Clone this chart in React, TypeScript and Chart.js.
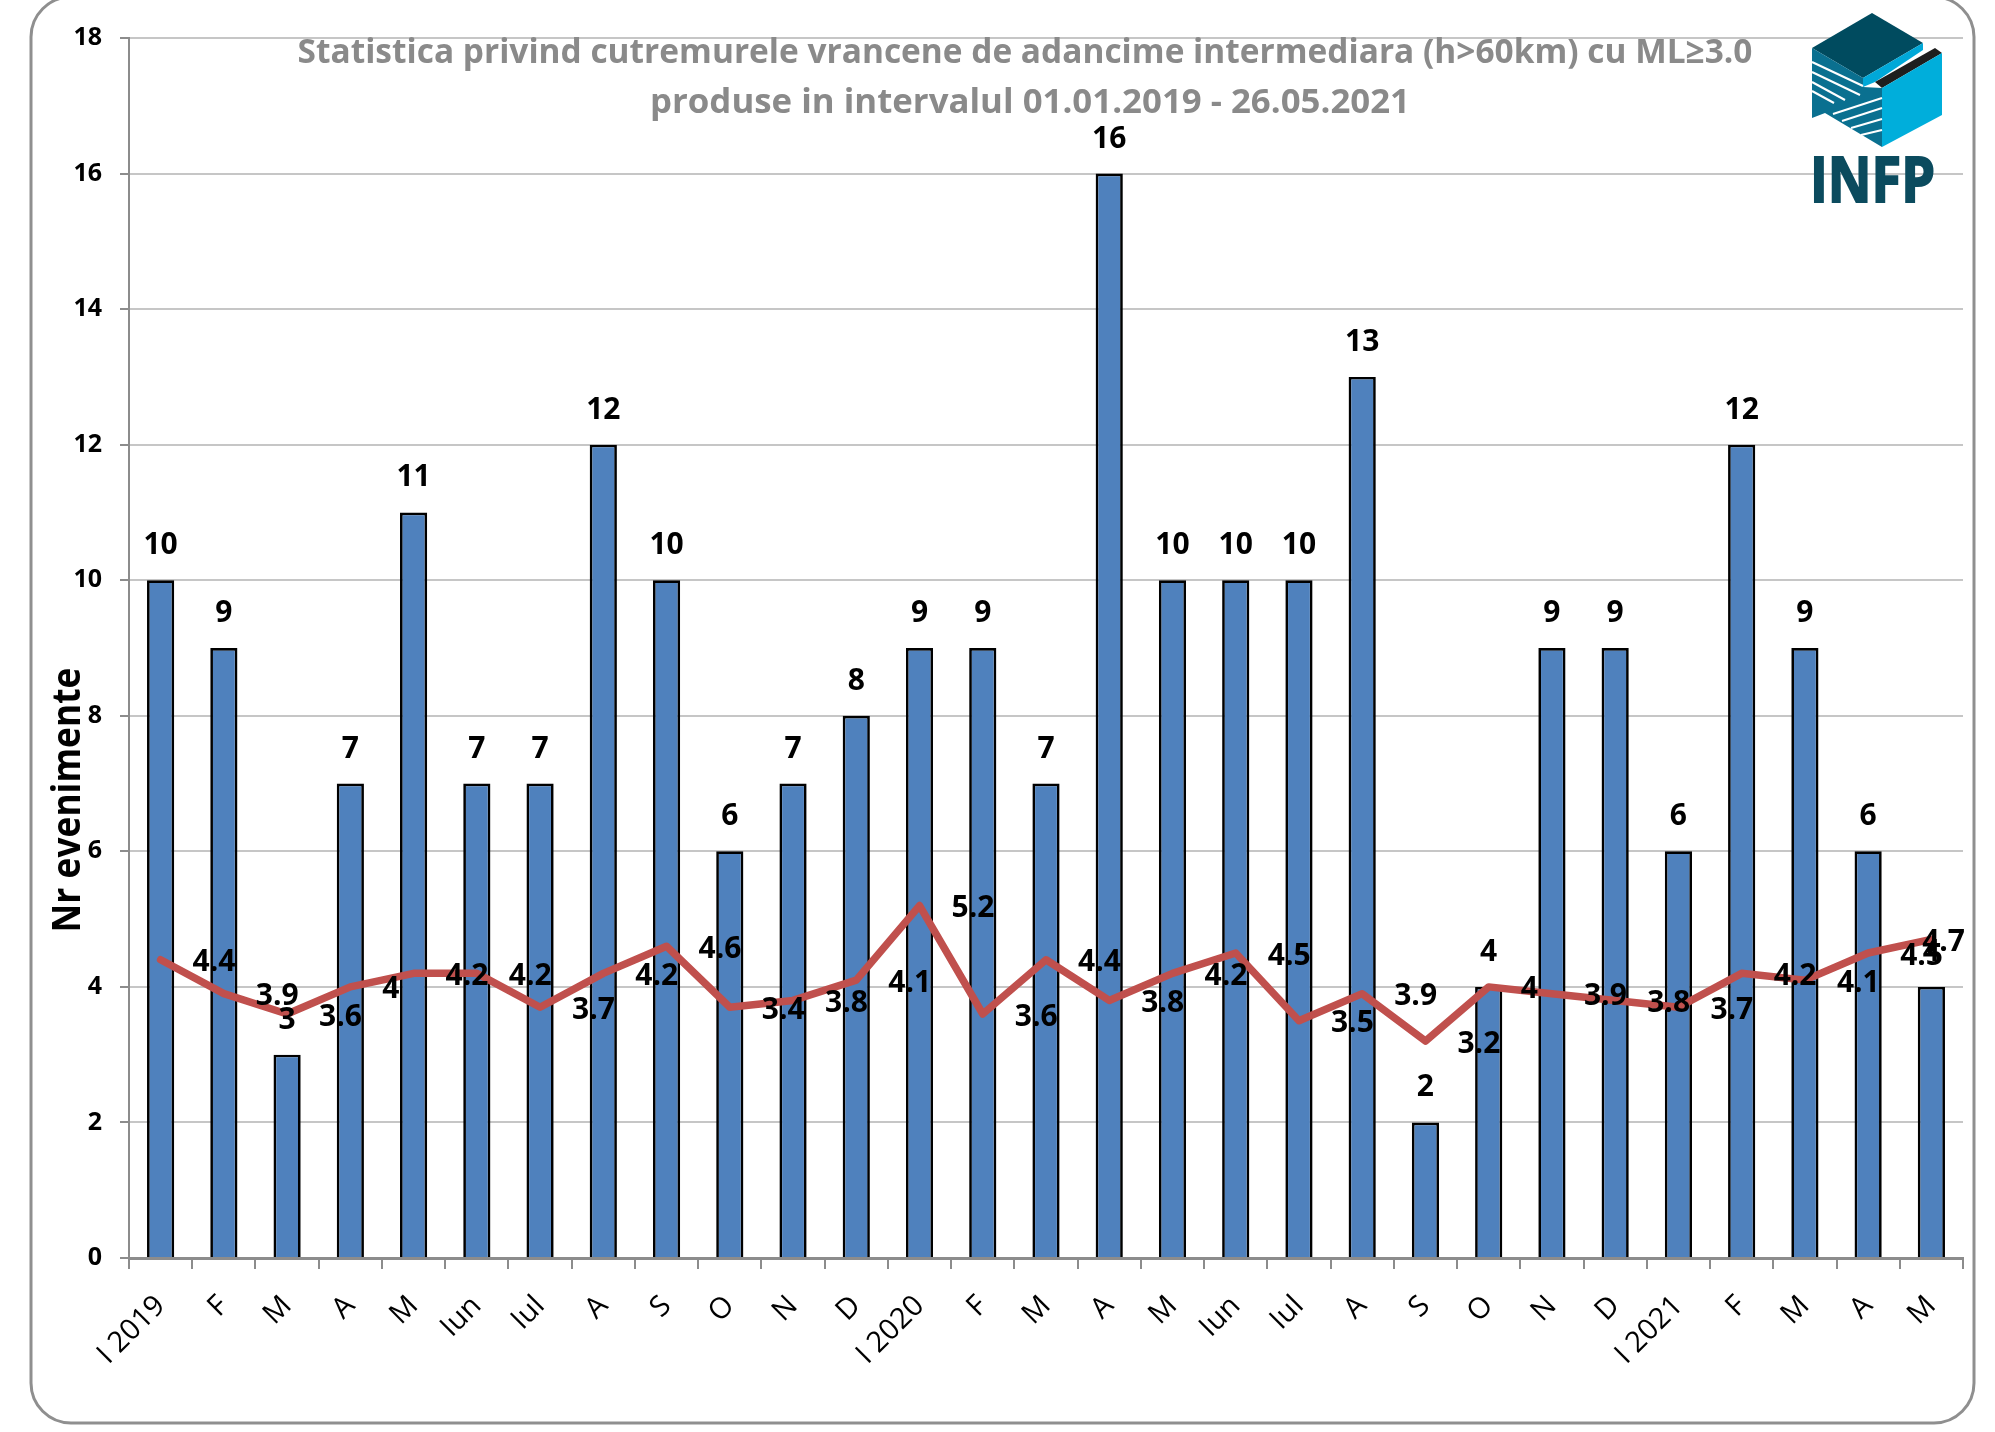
import { useEffect, useRef } from "react"
import { Chart, registerables } from "chart.js"

Chart.register(...registerables)

const W = 1995
const H = 1432

// Luni (2019 - 2021)
const months = [
  "I 2019", "F", "M", "A", "M", "Iun", "Iul", "A", "S", "O", "N", "D",
  "I 2020", "F", "M", "A", "M", "Iun", "Iul", "A", "S", "O", "N", "D",
  "I 2021", "F", "M", "A", "M",
]

// Nr evenimente pe luna
const eventCounts = [10, 9, 3, 7, 11, 7, 7, 12, 10, 6, 7, 8, 9, 9, 7, 16, 10, 10, 10, 13, 2, 4, 9, 9, 6, 12, 9, 6, 4]

// Magnitudinea (ML) medie pe luna
const avgMagnitude = [
  4.4, 3.9, 3.6, 4.0, 4.2, 4.2, 3.7, 4.2, 4.6, 3.7, 3.8, 4.1,
  5.2, 3.6, 4.4, 3.8, 4.2, 4.5, 3.5, 3.9, 3.2, 4.0, 3.9, 3.8,
  3.7, 4.2, 4.1, 4.5, 4.7,
]

// Etichetele afisate langa linie (asa cum apar in original)
const magnitudeLabels = [
  "4.4", "3.9", "3.6", "4", "4.2", "4.2", "3.7", "4.2", "4.6", "3.4", "3.8", "4.1",
  "5.2", "3.6", "4.4", "3.8", "4.2", "4.5", "3.5", "3.9", "3.2", "4", "3.9", "3.8",
  "3.7", "4.2", "4.1", "4.5", "4.7",
]

const yMin = 0
const yMax = 18
const yStep = 2

const titleLines = [
  "Statistica privind cutremurele vrancene de adancime intermediara (h>60km) cu ML≥3.0",
  "produse in intervalul 01.01.2019 - 26.05.2021",
]

const FONT = "'Open Sans', 'Noto Sans', sans-serif"

// draws the numbers above the bars and to the right of the line points
const valueLabels = {
  id: "valueLabels",
  afterDatasetsDraw(chart: any) {
    const { ctx, chartArea } = chart
    ctx.save()
    ctx.fillStyle = "#000"
    ctx.font = `bold 30px ${FONT}`

    ctx.textAlign = "center"
    ctx.textBaseline = "alphabetic"
    chart.getDatasetMeta(0).data.forEach((bar: any, i: number) => {
      ctx.fillText(String(eventCounts[i]), bar.x, bar.y - 26)
    })

    ctx.textAlign = "left"
    ctx.textBaseline = "middle"
    chart.getDatasetMeta(1).data.forEach((pt: any, i: number) => {
      const text = magnitudeLabels[i]
      const w = ctx.measureText(text).width
      const x = Math.min(pt.x + 32, chartArea.right + 2 - w)
      ctx.fillText(text, x, pt.y + 3)
    })
    ctx.restore()
  },
}

export default function App() {
  const canvasRef = useRef<HTMLCanvasElement>(null)
  const chartRef = useRef<Chart | null>(null)

  useEffect(() => {
    if (!canvasRef.current) return
    if (chartRef.current) chartRef.current.destroy()

    Chart.defaults.font.family = FONT

    chartRef.current = new Chart(canvasRef.current, {
      type: "bar",
      data: {
        labels: months,
        datasets: [
          {
            label: "Nr evenimente",
            data: eventCounts,
            backgroundColor: "#4f81bd",
            borderColor: "#000",
            borderWidth: 2.7,
            barPercentage: 0.43,
            categoryPercentage: 1,
            order: 1,
          },
          {
            type: "line",
            label: "ML mediu",
            data: avgMagnitude,
            borderColor: "#c0504d",
            borderWidth: 7.5,
            pointRadius: 0,
            tension: 0,
            borderJoinStyle: "round",
            borderCapStyle: "round",
            fill: false,
            order: 0,
          },
        ],
      },
      options: {
        responsive: false,
        animation: false,
        layout: { padding: { top: 38, right: 32, left: 0, bottom: 0 } },
        plugins: {
          legend: { display: false },
          tooltip: { enabled: false },
        },
        scales: {
          x: {
            ticks: {
              color: "#000",
              font: { size: 29 },
              maxRotation: 45,
              minRotation: 45,
              autoSkip: false,
              padding: 20,
            },
            grid: { drawOnChartArea: false, tickLength: 11, color: "#8c8c8c", lineWidth: 2 },
            border: { color: "#8c8c8c", width: 3 },
            afterFit: (s: any) => {
              s.height = 174
            },
          },
          y: {
            min: yMin,
            max: yMax,
            ticks: { stepSize: yStep, color: "#000", font: { size: 25, weight: "bold" }, padding: 18 },
            grid: { color: "#c6c6c6", lineWidth: 2, tickLength: 9, tickColor: "#8c8c8c" },
            border: { color: "#8c8c8c", width: 2 },
            afterFit: (s: any) => {
              s.width = 129
            },
          },
        },
      },
      plugins: [valueLabels],
    } as any)

    return () => {
      if (chartRef.current) {
        chartRef.current.destroy()
        chartRef.current = null
      }
    }
  }, [])

  return (
    <div style={{ position: "absolute", left: 0, top: 0, width: W, height: H, background: "#fff" }}>
      <canvas ref={canvasRef} width={W} height={H} style={{ display: "block" }} aria-label="Statistica cutremure vrancene" />
      <svg
        width={W}
        height={H}
        style={{ position: "absolute", left: 0, top: 0, pointerEvents: "none" }}
        fontFamily={FONT}
      >
        <rect x={31} y={-3} width={1943} height={1426} rx={40} fill="none" stroke="#8f8f8f" strokeWidth={3} />

        <text x={1025} y={63} textAnchor="middle" fontSize={34} fontWeight="bold" fill="#8a8a8a" textLength={1455} lengthAdjust="spacingAndGlyphs">
          {titleLines[0]}
        </text>
        <text x={1030} y={113} textAnchor="middle" fontSize={34} fontWeight="bold" fill="#8a8a8a" textLength={760} lengthAdjust="spacingAndGlyphs">
          {titleLines[1]}
        </text>

        <text transform="translate(80,800) rotate(-90)" textAnchor="middle" fontSize={40} fontWeight="bold" fill="#000" textLength={265} lengthAdjust="spacingAndGlyphs">
          Nr evenimente
        </text>

        {/* INFP logo */}
        <g>
          <polygon points="1872,13 1923,43 1863,78 1812,48" fill="#004b5f" />
          <polygon points="1863,78 1923,43 1923,50 1875,82 1863,87" fill="#00a8d8" />
          <polygon points="1875,82 1935,48 1942,53 1882,88" fill="#1e1e1e" />
          <polygon points="1882,88 1942,53 1942,115 1882,147" fill="#00aedb" />
          <polygon points="1812,48 1863,78 1863,87 1882,88 1882,147 1825,113 1812,118" fill="#0a7090" />
          <g stroke="#fff" strokeWidth={2}>
            <line x1={1812} y1={62} x2={1863} y2={86} />
            <line x1={1812} y1={72} x2={1860} y2={95} />
            <line x1={1812} y1={82} x2={1845} y2={100} />
            <line x1={1812} y1={91} x2={1834} y2={103} />
            <line x1={1833} y1={114} x2={1882} y2={98} />
            <line x1={1842} y1={121} x2={1882} y2={108} />
            <line x1={1851} y1={128} x2={1882} y2={119} />
            <line x1={1861} y1={135} x2={1882} y2={130} />
          </g>
          <text x={1810} y={202} fontSize={63} fontWeight="bold" fill="#0b4b5e" stroke="#0b4b5e" strokeWidth={2} textLength={125} lengthAdjust="spacingAndGlyphs">
            INFP
          </text>
        </g>
      </svg>
    </div>
  )
}
